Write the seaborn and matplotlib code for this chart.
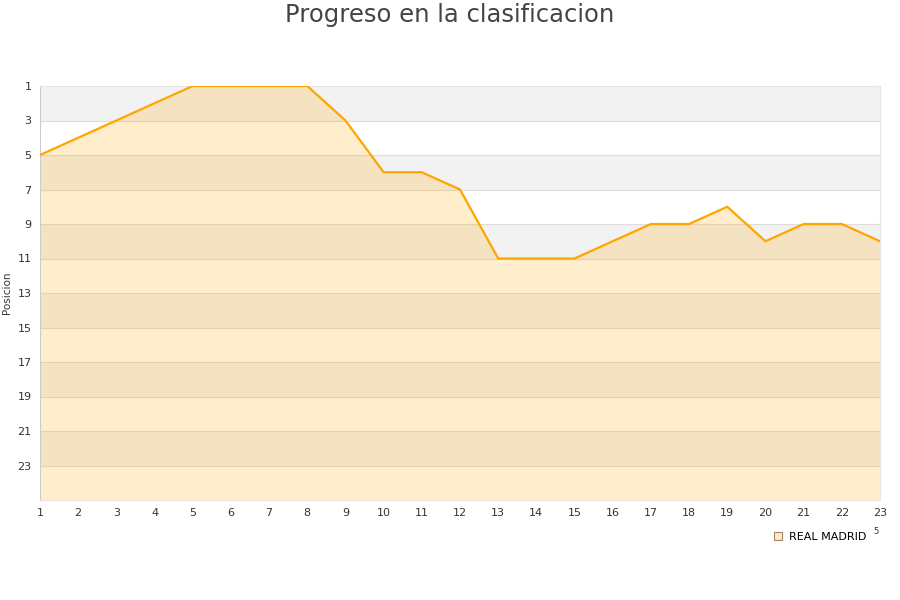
import numpy as np
import pandas as pd
import seaborn as sns
import matplotlib.pyplot as plt
from matplotlib.lines import Line2D

sns.set_theme(style='white')
plt.rcParams['font.family'] = ['DejaVu Sans']

# Progreso en la clasificacion - REAL MADRID
jornadas = list(range(1, 24))
posiciones = [5, 4, 3, 2, 1, 1, 1, 1, 3, 6, 6, 7, 11, 11, 11, 10, 9, 9, 8, 10, 9, 9, 10]
equipo = 'REAL MADRID'
y_ticks = list(range(1, 24, 2))

df = pd.DataFrame({'jornada': jornadas, 'posicion': posiciones})

fig = plt.figure(figsize=(9, 6), dpi=100)
ax = fig.add_axes([40 / 900, 100 / 600, 840 / 900, 414 / 600])

# alternating bands
for lo in range(1, 25, 4):
    ax.axhspan(lo, lo + 2, color='#f2f2f2', lw=0, zorder=0)
for t in y_ticks[1:]:
    ax.axhline(t, color='#dddddd', lw=0.8, zorder=1)

ax.fill_between(df['jornada'], df['posicion'], 25, color='#ffa500', alpha=0.2, lw=0, zorder=2)
sns.lineplot(data=df, x='jornada', y='posicion', ax=ax, color='#ffa500', lw=1.6, zorder=3)

ax.set_xlim(1, 23)
ax.set_ylim(25, 1)
ax.set_xticks(jornadas)
ax.set_yticks(y_ticks)
ax.tick_params(axis='both', labelsize=8, colors='#333333', length=0, pad=6)
ax.set_xlabel('')
ax.set_ylabel('Posicion', fontsize=7.5, color='#333333', labelpad=4)

for side in ['top', 'right', 'bottom']:
    ax.spines[side].set_color('#e6e6e6')
    ax.spines[side].set_linewidth(0.8)
ax.spines['left'].set_color('#cccccc')
ax.spines['left'].set_linewidth(0.8)

fig.suptitle('Progreso en la clasificacion', x=0.5, y=0.995, fontsize=17.5, color='#444444')

handle = Line2D([], [], marker='s', linestyle='none', markersize=6,
                markerfacecolor='#ffe9c6', markeredgecolor='#a08a6a', markeredgewidth=0.8)
fig.legend([handle], [equipo], loc='center', bbox_to_anchor=(819 / 900, 1 - 537 / 600),
           frameon=False, fontsize=8, labelcolor='black', handletextpad=0.5, handlelength=1.0)
fig.text(876 / 900, 1 - 532 / 600, '5', fontsize=6, color='#333333', ha='center', va='center')

fig.savefig('out.png', dpi=100)
